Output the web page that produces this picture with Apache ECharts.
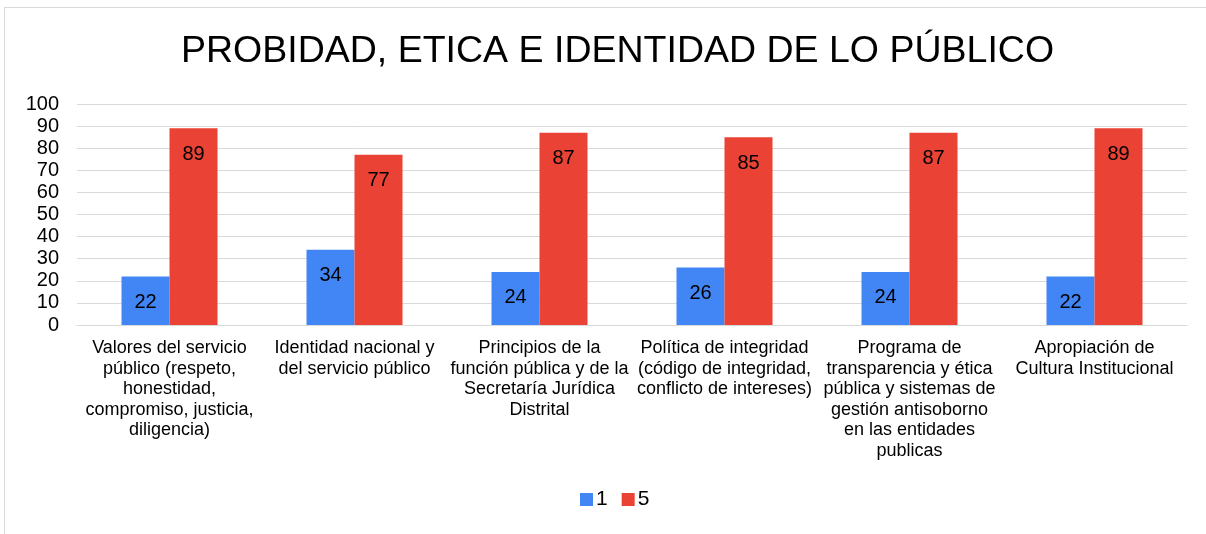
<!DOCTYPE html>
<html><head><meta charset="utf-8">
<script src="https://cdn.jsdelivr.net/npm/echarts@6/dist/echarts.min.js"></script>
<style>
html,body{margin:0;padding:0;background:#fff;}
#frame{position:absolute;left:4px;top:7px;width:1210px;height:540px;border:1px solid #d9d9d9;box-sizing:border-box;}
#chart{position:absolute;left:0;top:0;width:1206px;height:534px;}
</style></head>
<body>
<div id="frame"></div>
<div id="chart"></div>
<script>
const titleText = 'PROBIDAD, ETICA E IDENTIDAD DE LO PÚBLICO';
const categories = [
  'Valores del servicio\npúblico (respeto,\nhonestidad,\ncompromiso, justicia,\ndiligencia)',
  'Identidad nacional y\ndel servicio público',
  'Principios de la\nfunción pública y de la\nSecretaría Jurídica\nDistrital',
  'Política de integridad\n(código de integridad,\nconflicto de intereses)',
  'Programa de\ntransparencia y ética\npública y sistemas de\ngestión antisoborno\nen las entidades\npublicas',
  'Apropiación de\nCultura Institucional'
];
const seriesNames = ['1', '5'];
const values1 = [22, 34, 24, 26, 24, 22];
const values5 = [89, 77, 87, 85, 87, 89];

const chart = echarts.init(document.getElementById('chart'), null, {renderer:'canvas'});
const font = 'Liberation Sans, Arial, sans-serif';
const lbl = {show:true, position:'insideTop', distance:16, color:'#000', fontSize:20, fontFamily:font};
chart.setOption({
  animation:false,
  backgroundColor:'transparent',
  title:{text:titleText, left:176, top:28, textStyle:{fontFamily:font, fontSize:37.5, fontWeight:'normal', color:'#000'}},
  legend:{data:seriesNames, bottom:19, left:575, itemWidth:13, itemHeight:13, itemGap:14, icon:'rect',
    textStyle:{fontFamily:font, fontSize:21, color:'#000', padding:[0,0,0,-2]}},
  grid:{left:77, right:19, top:104, bottom:209},
  xAxis:{type:'category', data:categories,
    axisLine:{lineStyle:{color:'#d9d9d9'}}, axisTick:{show:false},
    axisLabel:{interval:0, fontFamily:font, fontSize:18, color:'#000', lineHeight:20.5, margin:13}},
  yAxis:{type:'value', min:0, max:100, interval:10,
    axisLabel:{fontFamily:font, fontSize:20, color:'#000', margin:18},
    splitLine:{lineStyle:{color:'#d9d9d9'}}},
  series:[
    {name:'1', type:'bar', data:values1, barWidth:48, barGap:'0%', itemStyle:{color:'#4285f4'}, label:lbl},
    {name:'5', type:'bar', data:values5, barWidth:48, barGap:'0%', itemStyle:{color:'#ea4335'}, label:lbl}
  ]
});
</script>
</body></html>
